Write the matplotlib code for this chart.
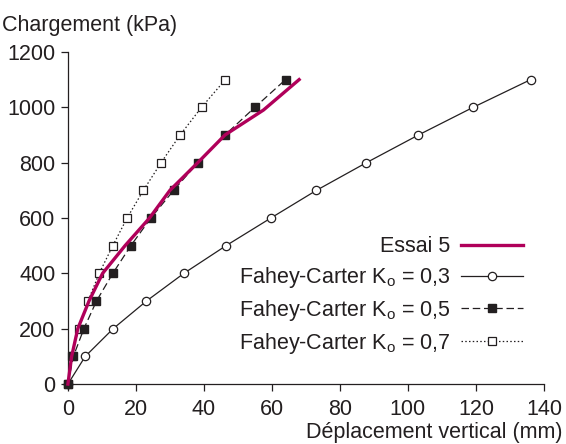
import matplotlib
matplotlib.use("Agg")
import matplotlib.pyplot as plt

plt.rcParams['font.family'] = ['Liberation Sans', 'DejaVu Sans']
plt.rcParams['mathtext.fontset'] = 'custom'
plt.rcParams['mathtext.rm'] = 'Liberation Sans'
plt.rcParams['mathtext.it'] = 'Liberation Sans'

# Data
essai_x = [0, 1.1, 2.9, 6.2, 10.2, 16.8, 24.0, 30.0, 38.2, 46.2, 57.5, 68.0]
essai_y = [0, 100, 200, 300, 400, 500, 600, 700, 800, 900, 990, 1100]

k03_x = [0, 5.1, 13.3, 23.1, 34.1, 46.5, 59.7, 73.1, 87.8, 103.1, 119.2, 136.1]
k03_y = [0, 100, 200, 300, 400, 500, 600, 700, 800, 900, 1000, 1100]

k05_x = [0, 1.6, 4.7, 8.4, 13.2, 18.5, 24.4, 31.1, 38.2, 46.2, 55.0, 64.0]
k05_y = [0, 100, 200, 300, 400, 500, 600, 700, 800, 900, 1000, 1100]

k07_x = [0, 1.1, 3.2, 5.9, 9.2, 13.2, 17.4, 22.2, 27.4, 33.0, 39.3, 46.3]
k07_y = [0, 100, 200, 300, 400, 500, 600, 700, 800, 900, 1000, 1100]

xticks = [0, 20, 40, 60, 80, 100, 120, 140]
yticks = [0, 200, 400, 600, 800, 1000, 1200]

labels = ['Essai 5',
          r'Fahey-Carter K$_\mathrm{o}$ = 0,3',
          r'Fahey-Carter K$_\mathrm{o}$ = 0,5',
          r'Fahey-Carter K$_\mathrm{o}$ = 0,7']

ink = '#231f20'
fs = 15.5
fig = plt.figure(figsize=(5.66, 4.44), dpi=100)
ax = fig.add_axes([0.120, 0.135, 0.841, 0.748])

l1, = ax.plot(essai_x, essai_y, color='#b0005a', lw=2.4, zorder=5, clip_on=False)
l2, = ax.plot(k03_x, k03_y, color=ink, lw=0.9, marker='o', ms=6, mfc='white',
              mec=ink, mew=0.9, clip_on=False, zorder=3)
l3, = ax.plot(k05_x, k05_y, color=ink, lw=0.9, ls=(0, (6, 3)), marker='s', ms=6,
              mfc=ink, mec=ink, clip_on=False, zorder=4)
l4, = ax.plot(k07_x, k07_y, color=ink, lw=0.9, ls=(0, (1.2, 1.8)), marker='s', ms=5.5,
              mfc='white', mec=ink, mew=0.9, clip_on=False, zorder=3)

ax.set_xlim(0, 140)
ax.set_ylim(0, 1200)
ax.set_xticks(xticks)
ax.set_yticks(yticks)
for s in ['top', 'right']:
    ax.spines[s].set_visible(False)
for s in ['left', 'bottom']:
    ax.spines[s].set_color(ink)
    ax.spines[s].set_linewidth(0.9)
ax.tick_params(direction='out', length=5, width=0.9, colors=ink, labelsize=fs)
ax.tick_params(axis='x', pad=6)
ax.tick_params(axis='y', pad=4)

fig.text(0.004, 0.943, 'Chargement (kPa)', fontsize=fs, color=ink, ha='left', va='center')
fig.text(0.993, 0.025, 'Déplacement vertical (mm)', fontsize=fs, color=ink, ha='right', va='center')

leg = ax.legend([l1, l2, l3, l4], labels, loc='center right', bbox_to_anchor=(0.975, 0.265),
                markerfirst=False, frameon=False, fontsize=fs, handlelength=2.9,
                labelspacing=0.37, handletextpad=0.5, borderaxespad=0)
for t in leg.get_texts():
    t.set_color(ink)
    t.set_ha('right')
leg._legend_box.align = 'right'

fig.savefig('out.png', dpi=100)
